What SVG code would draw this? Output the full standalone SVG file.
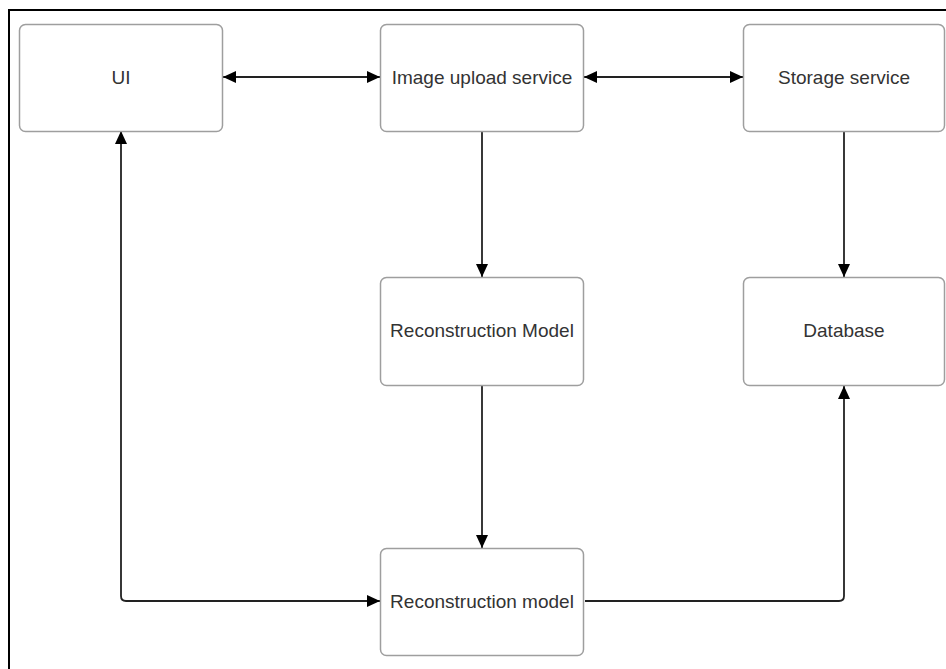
<svg xmlns="http://www.w3.org/2000/svg" width="946" height="669" viewBox="0 0 946 669">
<style>
.box{fill:#fff;stroke:#9e9e9e;stroke-width:1.5}
.lbl{font-family:"Liberation Sans",Arial,sans-serif;font-size:19px;fill:#333;text-anchor:middle;dominant-baseline:central}
.edge{fill:none;stroke:#222;stroke-width:1.8}
</style>
<defs>
<marker id="ah" viewBox="0 0 13 12" refX="13" refY="6" markerWidth="13" markerHeight="12" markerUnits="userSpaceOnUse" orient="auto-start-reverse">
<path d="M0,0 L13,6 L0,12 Z" fill="#000"/>
</marker>
</defs>
<rect width="946" height="669" fill="#fff"/>
<path d="M9,669 V10 H946" fill="none" stroke="#000" stroke-width="2"/>
<g id="connectors">
<path class="edge" d="M223,77 H380" marker-start="url(#ah)" marker-end="url(#ah)"/>
<path class="edge" d="M584,77 H743" marker-start="url(#ah)" marker-end="url(#ah)"/>
<path class="edge" d="M482,132 V277" marker-end="url(#ah)"/>
<path class="edge" d="M844,132 V277" marker-end="url(#ah)"/>
<path class="edge" d="M482,386 V548" marker-end="url(#ah)"/>
<path class="edge" d="M121,131 V596 Q121,601 126,601 H380" marker-start="url(#ah)" marker-end="url(#ah)"/>
<path class="edge" d="M585,601 H839 Q844,601 844,596 V386" marker-end="url(#ah)"/>
</g>
<g id="ui"><rect class="box" x="19.5" y="24.5" width="203" height="107" rx="6"/><text class="lbl" x="121" y="77">UI</text></g>
<g id="image-upload-service"><rect class="box" x="380.5" y="24.5" width="203" height="107" rx="6"/><text class="lbl" x="482" y="77">Image upload service</text></g>
<g id="storage-service"><rect class="box" x="743.5" y="24.5" width="201" height="107" rx="6"/><text class="lbl" x="844" y="77">Storage service</text></g>
<g id="reconstruction-model-1"><rect class="box" x="380.5" y="277.5" width="203" height="108" rx="6"/><text class="lbl" x="482" y="330">Reconstruction Model</text></g>
<g id="database"><rect class="box" x="743.5" y="277.5" width="201" height="108" rx="6"/><text class="lbl" x="844" y="330">Database</text></g>
<g id="reconstruction-model-2"><rect class="box" x="380.5" y="548.5" width="203" height="107" rx="6"/><text class="lbl" x="482" y="601">Reconstruction model</text></g>
</svg>
